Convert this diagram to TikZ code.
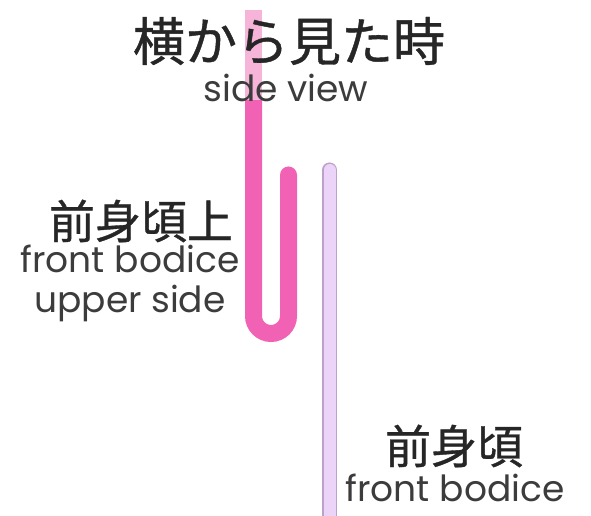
\documentclass[tikz,border=0pt]{standalone}
\usepackage{fontspec}
\setmainfont{Poppins}
\newfontfamily\jpfont[FakeBold=0.8]{Noto Sans CJK JP}
\usetikzlibrary{positioning}
\definecolor{hotpink}{RGB}{242,98,180}
\definecolor{palepink}{RGB}{245,180,216}
\definecolor{lilac}{RGB}{236,212,248}
\definecolor{lilacedge}{RGB}{190,160,205}
\definecolor{labelgray}{RGB}{60,60,60}
\tikzset{
  jplabel/.style={font=\jpfont\fontsize{46}{46}\selectfont, text=black!85, inner sep=0pt},
  enlabel/.style={font=\fontsize{36}{40}\selectfont, text=labelgray, inner sep=0pt, align=center},
  fold/.style={line width=17pt, draw=hotpink, line cap=round},
}
\begin{document}
\begin{tikzpicture}[x=1pt,y=1pt]
 	  \useasboundingbox (0,0) rectangle (591,516);
 	  % folded upper piece
 	  \draw [fold] (253.5,420) -- (253.5,200) arc (180:360:17.5) -- (288.5,341);
 	  \draw [line width=17pt,palepink] (253.5,416) -- (253.5,506);
 	  % front bodice piece
 	  \draw [line width=15pt,lilacedge,line cap=round] (329.5,-5) -- (329.5,346);
 	  \draw [line width=12pt,lilac,line cap=round] (329.5,-5) -- (329.5,346);
 	  % labels
 	  \node (title) [jplabel,font=\jpfont\fontsize{52}{52}\selectfont] at (289,475) {横から見た時};
 	  \node (side) [enlabel] at (286,428) {side view};
 	  \node (upperjp) [jplabel] at (141,295) {前身頃上};
 	  \node (upperen) [enlabel] at (130,233) {front bodice\\upper side};
 	  \node (frontjp) [jplabel] at (454,70) {前身頃};
 	  \node (fronten) [enlabel] at (455,28) {front bodice};
\end{tikzpicture}
\end{document}
